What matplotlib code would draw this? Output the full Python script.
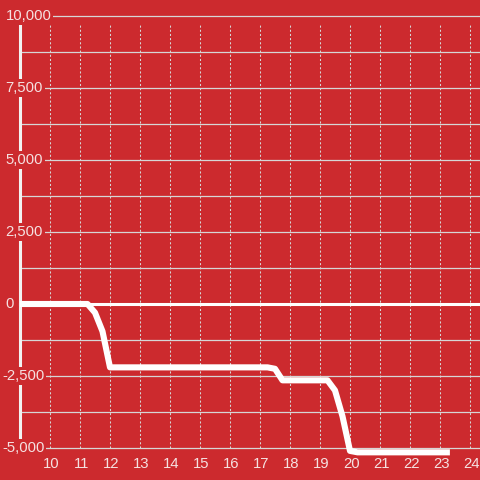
# coding=utf-8
"""
Balance acumulado por hora, fondo rojo.
"""

import matplotlib.pyplot as plt

# Datos de la serie
horas = [9.0, 11.25, 11.5, 11.75, 12.0, 17.25, 17.5, 17.75, 19.25, 19.5, 19.75, 20.0, 20.25, 23.33]
balance = [0, 0, -300, -950, -2200, -2200, -2250, -2650, -2650, -3000, -3900, -5100, -5150, -5150]

# Ejes
x_ticks = [10, 11, 12, 13, 14, 15, 16, 17, 18, 19, 20, 21, 22, 23, 24]
y_ticks = [-5000, -2500, 0, 2500, 5000, 7500, 10000]
y_labels = ['-5,000', '-2,500', '0', '2,500', '5,000', '7,500', '10,000']
y_grid = [-5000, -3750, -2500, -1250, 1250, 2500, 3750, 5000, 6250, 7500, 8750, 10000]

fondo = '#cc2a2e'
gris = '#d6d6d6'
texto = '#f5e1e1'

plt.rcParams['font.family'] = ['Liberation Sans', 'DejaVu Sans']

fig = plt.figure(figsize=(4.8, 4.8), dpi=100, facecolor=fondo)
ax = fig.add_axes([0, 0, 1, 1])
ax.set_facecolor(fondo)
ax.axis('off')

# Escala: 30 px por hora, 28.8 px por cada 1000
x_min = 9 - 20 / 30.
ax.set_xlim(x_min, 9 + 460 / 30.)
ax.set_ylim(-176 / 28.8 * 1000, 10000 + 16 / 28.8 * 1000)

# Grilla
x0 = 9.0
for y in y_grid:
    ax.plot([x0, 25], [y, y], color=gris, lw=0.9, zorder=1)
for x in x_ticks:
    ax.plot([x, x], [-5000, 9760], color=gris, lw=0.75, ls=(0, (2, 2)), zorder=1)
ax.plot([x0, 25], [0, 0], color='white', lw=2.2, zorder=2)
ax.plot([x0, x0], [-5000, 9720], color='#f2f2f2', lw=2.2, zorder=2)

# Serie
ax.plot(horas, balance, color='white', lw=4.4, solid_capstyle='butt',
        solid_joinstyle='round', zorder=3)

# Etiquetas
for y, lab in zip(y_ticks, y_labels):
    px = 2.0 if lab.startswith('-') else 5.5
    ax.text(x_min + px / 30., y, lab, ha='left', va='center', fontsize=10.7,
            color=texto, zorder=4,
            bbox=dict(facecolor=fondo, edgecolor='none', pad=1.2))
for x in x_ticks:
    ax.text(x + 0.04, -5550, str(x), ha='center', va='center', fontsize=10.7,
            color=texto, zorder=4)

fig.savefig('out.png', dpi=100, facecolor=fondo)
